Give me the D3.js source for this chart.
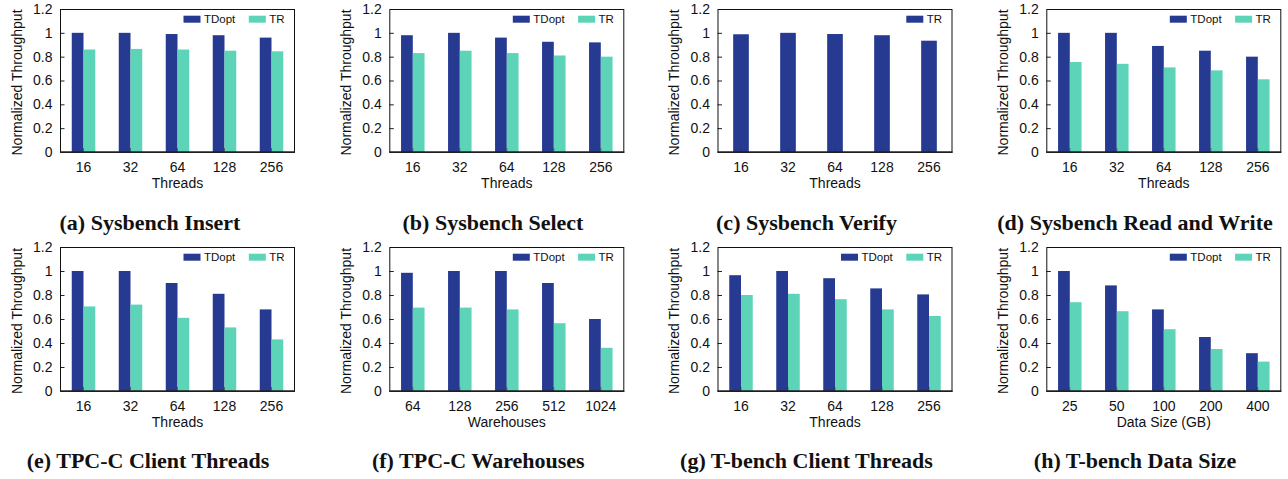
<!DOCTYPE html>
<html>
<head>
<meta charset="utf-8">
<script src="https://cdn.jsdelivr.net/npm/d3@7"></script>
<style>
  html, body { margin: 0; padding: 0; background: #fff; }
  svg { display: block; }
  .tick text, .lbl { font-family: "Liberation Sans", Arial, Helvetica, sans-serif; fill: #111; }
  .cap { font-family: "Liberation Serif", "Times New Roman", serif; font-weight: bold; fill: #111; }
</style>
</head>
<body>
<svg id="chart" width="1288" height="479"></svg>
<script>
// ---------- data ----------
const threadCats = ["16", "32", "64", "128", "256"];
const warehouseCats = ["64", "128", "256", "512", "1024"];
const dataSizeCats = ["25", "50", "100", "200", "400"];

const yTickValues = [0, 0.2, 0.4, 0.6, 0.8, 1, 1.2];
const yTickLabels = ["0", "0.2", "0.4", "0.6", "0.8", "1", "1.2"];

const seriesNames = ["TDopt", "TR"];

const insertTDopt = [1.0, 1.0, 0.99, 0.98, 0.96];
const insertTR = [0.86, 0.865, 0.86, 0.85, 0.845];

const selectTDopt = [0.98, 1.0, 0.96, 0.925, 0.92];
const selectTR = [0.83, 0.85, 0.83, 0.81, 0.80];

const verifyTR = [0.988, 1.0, 0.99, 0.98, 0.934];

const readWriteTDopt = [1.0, 1.0, 0.89, 0.85, 0.80];
const readWriteTR = [0.755, 0.74, 0.71, 0.685, 0.61];

const tpccThreadsTDopt = [1.0, 1.0, 0.90, 0.81, 0.68];
const tpccThreadsTR = [0.705, 0.72, 0.61, 0.53, 0.43];

const tpccWarehousesTDopt = [0.985, 1.0, 1.0, 0.90, 0.60];
const tpccWarehousesTR = [0.695, 0.695, 0.68, 0.565, 0.36];

const tbenchThreadsTDopt = [0.965, 1.0, 0.94, 0.855, 0.805];
const tbenchThreadsTR = [0.80, 0.81, 0.765, 0.68, 0.625];

const tbenchSizeTDopt = [1.0, 0.88, 0.68, 0.45, 0.315];
const tbenchSizeTR = [0.74, 0.665, 0.515, 0.35, 0.245];

const captions = [
  "(a) Sysbench Insert", "(b) Sysbench Select", "(c) Sysbench Verify", "(d) Sysbench Read and Write",
  "(e) TPC-C Client Threads", "(f) TPC-C Warehouses", "(g) T-bench Client Threads", "(h) T-bench Data Size"
];
const xTitles = ["Threads", "Threads", "Threads", "Threads", "Threads", "Warehouses", "Threads", "Data Size (GB)"];

// ---------- panel definitions (data references) ----------
const panels = [
  { cats: threadCats, series: [insertTDopt, insertTR], names: seriesNames, colors: ["tdopt", "tr"] },
  { cats: threadCats, series: [selectTDopt, selectTR], names: seriesNames, colors: ["tdopt", "tr"] },
  { cats: threadCats, series: [verifyTR], names: ["TR"], colors: ["tdopt"] },
  { cats: threadCats, series: [readWriteTDopt, readWriteTR], names: seriesNames, colors: ["tdopt", "tr"] },
  { cats: threadCats, series: [tpccThreadsTDopt, tpccThreadsTR], names: seriesNames, colors: ["tdopt", "tr"] },
  { cats: warehouseCats, series: [tpccWarehousesTDopt, tpccWarehousesTR], names: seriesNames, colors: ["tdopt", "tr"] },
  { cats: threadCats, series: [tbenchThreadsTDopt, tbenchThreadsTR], names: seriesNames, colors: ["tdopt", "tr"] },
  { cats: dataSizeCats, series: [tbenchSizeTDopt, tbenchSizeTR], names: seriesNames, colors: ["tdopt", "tr"] }
];

// ---------- layout ----------
const palette = { tdopt: "#263a91", tr: "#5dd4b8" };
const colLefts = [60, 389.3, 717.5, 1046.3];
const plotWidth = 235;
const rowTops = [9, 247];
const rowBottoms = [152, 391];
const captionCenters = [150, 493, 806.5, 1135, 148, 478.3, 806.5, 1135];
const captionBaselines = [230, 468];
const legendTextOffsets = [91, 25.7]; // distance of legend text start from plot right edge

const svg = d3.select("#chart");

panels.forEach((p, i) => {
  const row = Math.floor(i / 4), col = i % 4;
  const left = colLefts[col], right = left + plotWidth;
  const top = rowTops[row], bottom = rowBottoms[row];

  const x = d3.scaleBand().domain(p.cats).range([left, right]).padding(0);
  const y = d3.scaleLinear().domain([0, 1.2]).range([bottom, top]);
  const step = x.step();
  const nSeries = p.series.length;
  const bw = step / (nSeries + 2);

  const g = svg.append("g");

  // bars
  p.series.forEach((vals, s) => {
    g.append("g").selectAll("rect")
      .data(vals.map((v, k) => ({ cat: p.cats[k], v })))
      .join("rect")
      .attr("x", d => x(d.cat) + step / 2 - (nSeries * bw) / 2 + s * bw)
      .attr("width", bw)
      .attr("y", d => y(d.v))
      .attr("height", d => y(0) - y(d.v))
      .attr("fill", palette[p.colors[s]]);
  });

  // y axis
  const yAxis = d3.axisLeft(y)
    .tickValues(yTickValues)
    .tickFormat((d, k) => yTickLabels[k])
    .tickSize(-4.5)
    .tickPadding(7.5);
  const ya = g.append("g").attr("transform", `translate(${left},0)`).call(yAxis);
  ya.select(".domain").remove();
  ya.selectAll(".tick line").attr("stroke", "#222");
  ya.selectAll(".tick text").attr("font-size", 14).attr("fill", "#111");
  ya.selectAll(".tick").filter(d => d === 0 || d === 1.2).select("line").remove();

  // x axis
  const xAxis = d3.axisBottom(x).tickSize(-4).tickPadding(9.8);
  const xa = g.append("g").attr("transform", `translate(0,${bottom})`).call(xAxis);
  xa.select(".domain").remove();
  xa.selectAll(".tick line").attr("stroke", "#333").attr("stroke-opacity", 0.6);
  xa.selectAll(".tick text").attr("font-size", 14).attr("fill", "#111");

  // frame
  g.append("rect")
    .attr("x", left + 0.5).attr("y", top + 0.5)
    .attr("width", plotWidth - 1).attr("height", bottom - top)
    .attr("fill", "none").attr("stroke", "#111").attr("stroke-width", 1);
  g.append("line")
    .attr("x1", left).attr("x2", right)
    .attr("y1", bottom).attr("y2", bottom)
    .attr("stroke", "#222").attr("stroke-width", 1.6);

  // axis titles
  g.append("text").attr("class", "lbl")
    .attr("transform", `translate(${left - 38.5},${(top + bottom) / 2 + 2}) rotate(-90)`)
    .attr("text-anchor", "middle").attr("font-size", 14)
    .text("Normalized Throughput");
  g.append("text").attr("class", "lbl")
    .attr("x", (left + right) / 2).attr("y", bottom + 36.3)
    .attr("text-anchor", "middle").attr("font-size", 14)
    .text(xTitles[i]);

  // legend (right aligned at top)
  const legY = top + 6.7;
  for (let s = 0; s < nSeries; s++) {
    const off = legendTextOffsets[legendTextOffsets.length - nSeries + s];
    const tx = right - off;
    g.append("text").attr("class", "lbl")
      .attr("x", tx).attr("y", legY + 7.3)
      .attr("font-size", 11.5)
      .text(p.names[s]);
    g.append("rect")
      .attr("x", tx - 20.5).attr("y", legY)
      .attr("width", 17).attr("height", 7)
      .attr("fill", palette[p.colors[s]]);
  }

  // caption
  svg.append("text").attr("class", "cap")
    .attr("x", captionCenters[i]).attr("y", captionBaselines[row])
    .attr("text-anchor", "middle").attr("font-size", 22)
    .text(captions[i]);
});
</script>
</body>
</html>
